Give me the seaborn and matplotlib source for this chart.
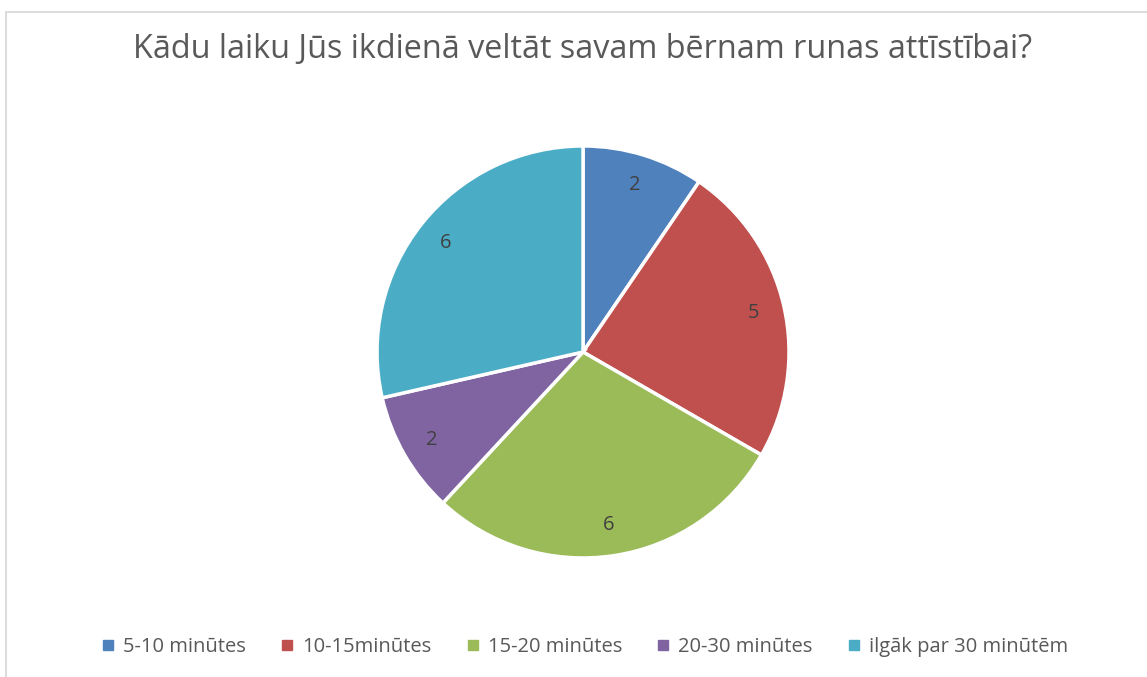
import seaborn as sns
import matplotlib.pyplot as plt
from matplotlib.lines import Line2D
from matplotlib.patches import Rectangle

# dati
categories = ["5-10 minūtes", "10-15minūtes", "15-20 minūtes", "20-30 minūtes", "ilgāk par 30 minūtēm"]
values = [2, 5, 6, 2, 6]
colors = ["#4F81BD", "#C0504D", "#9BBB59", "#8064A2", "#4BACC6"]
title = "Kādu laiku Jūs ikdienā veltāt savam bērnam runas attīstībai?"

sns.set_theme(style="white")
plt.rcParams['font.family'] = ['Open Sans', 'DejaVu Sans']

fig = plt.figure(figsize=(11.47, 6.77), dpi=100)

# rāmis ap diagrammu
fig.patches.append(Rectangle((6 / 1147, -0.1), 1.2, 1 - 11.5 / 677 + 0.1,
                             transform=fig.transFigure, fill=False,
                             edgecolor="#D9D9D9", linewidth=1.3))

ax = fig.add_axes([0.3287, 0.1758, 0.3592, 0.6086])
palette = sns.color_palette(colors)
total = sum(values)
wedges, texts, autotexts = ax.pie(
    values, colors=palette, startangle=90, counterclock=False,
    autopct=lambda p: f"{round(p * total / 100)}", pctdistance=0.85,
    wedgeprops=dict(edgecolor="white", linewidth=2.5),
    textprops=dict(color="#404040", fontsize=14.5))
ax.set_xlim(-1, 1)
ax.set_ylim(-1, 1)
ax.set_aspect("equal")

fig.text(0.508, 1 - 50 / 677, title, ha="center", va="center",
         fontsize=23.3, color="#595959")

handles = [Line2D([], [], marker="s", linestyle="", markersize=6.5,
                  color=c) for c in colors]
fig.legend(handles, categories, loc="center", bbox_to_anchor=(0.51, 1 - 647 / 677),
           ncol=5, frameon=False, fontsize=14.5, handlelength=0.6,
           handletextpad=0.45, columnspacing=1.75, labelcolor="#595959")

fig.savefig("out.png", dpi=100)
